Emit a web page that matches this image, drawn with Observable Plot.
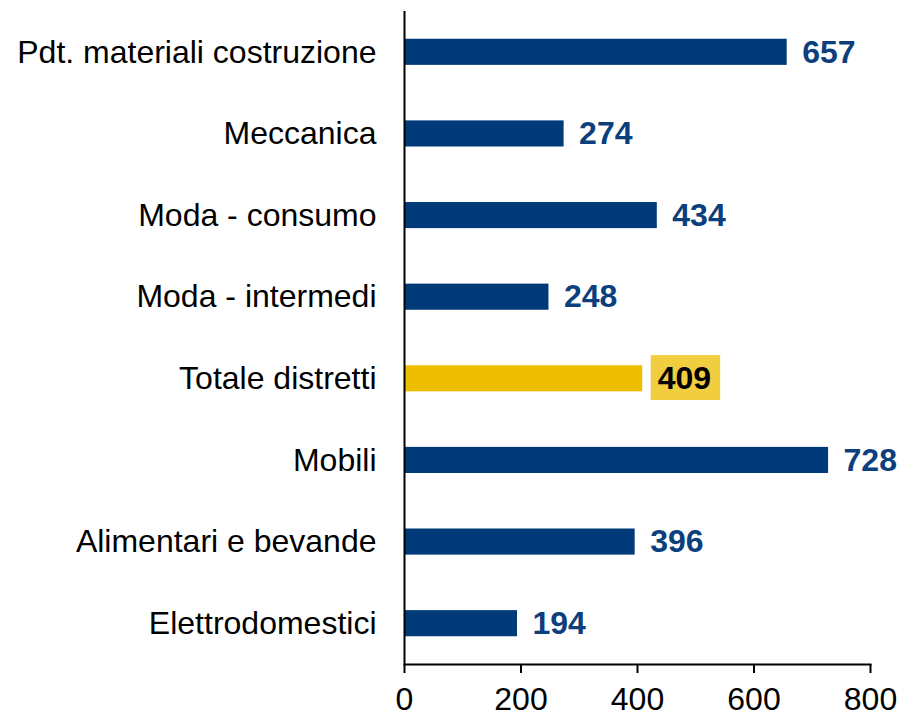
<!DOCTYPE html>
<html>
<head>
<meta charset="utf-8">
<script src="https://cdn.jsdelivr.net/npm/d3@7"></script>
<script src="https://cdn.jsdelivr.net/npm/@observablehq/plot@0.6"></script>
<style>
  html, body { margin: 0; padding: 0; background: #fff; }
  svg [aria-label^="x-axis"] path, svg [aria-label^="x-axis"] line { stroke-width: 2; }
</style>
</head>
<body>
<script>
const categories = [
  "Pdt. materiali costruzione",
  "Meccanica",
  "Moda - consumo",
  "Moda - intermedi",
  "Totale distretti",
  "Mobili",
  "Alimentari e bevande",
  "Elettrodomestici"
];
const values = [657, 274, 434, 248, 409, 728, 396, 194];
const highlight = "Totale distretti";
const xTicks = [0, 200, 400, 600, 800];

const navy = "#003a78";
const navyText = "#0b3f7d";
const yellow = "#edbf00";
const boxYellow = "#f1cd40";

const data = categories.map((c, i) => ({category: c, value: values[i]}));

const chart = Plot.plot({
  width: 901,
  height: 717,
  marginLeft: 404,
  marginRight: 31,
  marginTop: 11,
  marginBottom: 53,
  style: {fontFamily: "'Liberation Sans', Arial, sans-serif", fontSize: "32px", color: "black", background: "white"},
  x: {domain: [0, 800], ticks: xTicks, tickSize: 9, tickPadding: 14, label: null},
  y: {domain: categories, paddingInner: 0.68, paddingOuter: 0.34, round: false, tickSize: 0, tickPadding: 28, label: null},
  marks: [
    Plot.barX(data, {x: "value", y: "category", fill: d => d.category === highlight ? yellow : navy}),
    Plot.text(data, {
      x: "value", y: "category", text: d => String(d.value),
      textAnchor: "start", dx: 15, fontWeight: "bold", fontSize: 32,
      fill: d => d.category === highlight ? "#000000" : navyText
    }),
    Plot.ruleX([0], {stroke: "black", strokeWidth: 2}),
    Plot.frame({anchor: "bottom", stroke: "black", strokeWidth: 2})
  ]
});
document.body.append(chart);

// background box behind the highlighted value label
const hlText = String(values[categories.indexOf(highlight)]);
chart.querySelectorAll("text").forEach(t => {
  const g = t.closest("g");
  const bold = t.getAttribute("font-weight") === "bold" || (g && g.getAttribute("font-weight") === "bold");
  if (t.textContent === hlText && bold) {
    const b = t.getBBox();
    const r = document.createElementNS("http://www.w3.org/2000/svg", "rect");
    r.setAttribute("x", b.x - 7);
    r.setAttribute("y", b.y - 5);
    r.setAttribute("width", b.width + 16);
    r.setAttribute("height", b.height + 9);
    r.setAttribute("fill", boxYellow);
    if (t.getAttribute("transform")) r.setAttribute("transform", t.getAttribute("transform"));
    t.parentNode.insertBefore(r, t);
  }
});
</script>
</body>
</html>
